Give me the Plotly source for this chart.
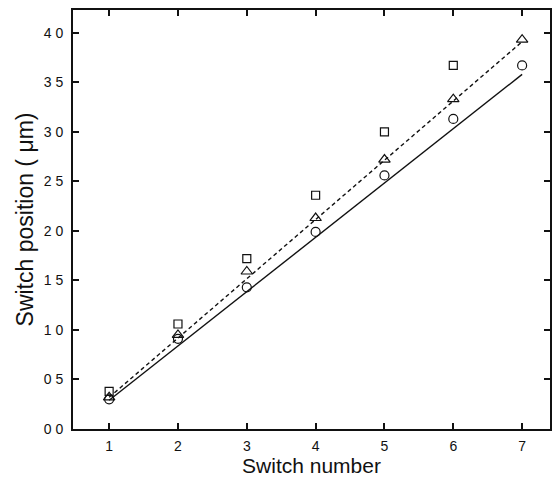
import plotly.graph_objects as go

# Switch index along the device
switch_number = [1, 2, 3, 4, 5, 6, 7]

# Measured switch positions for three devices
pos_circle = [3.0, 9.1, 14.3, 19.9, 25.6, 31.3, 36.7]
pos_triangle = [3.2, 9.5, 15.9, 21.3, 27.2, 33.3, 39.3]
pos_square = [3.8, 10.6, 17.2, 23.6, 30.0, 36.7]

# Linear fits, evaluated at the first and last switch
fit_x = [1, 7]
fit_solid = [2.9, 35.8]
fit_dashed = [3.2, 39.1]

# Axis tick labels
y_tickvals = [0, 5, 10, 15, 20, 25, 30, 35, 40]
y_ticktext = ["0 0", "0 5", "1 0", "1 5", "2 0", "2 5", "3 0", "3 5", "4 0"]

FONT = "Liberation Sans, Arial, Helvetica, sans-serif"
INK = "#111111"

fig = go.Figure()

fig.add_trace(go.Scatter(
    x=fit_x, y=fit_solid, mode="lines",
    line=dict(color=INK, width=1.4),
    hoverinfo="skip"))
fig.add_trace(go.Scatter(
    x=fit_x, y=fit_dashed, mode="lines",
    line=dict(color=INK, width=1.4, dash="4px,3px"),
    hoverinfo="skip"))

fig.add_trace(go.Scatter(
    x=switch_number, y=pos_circle, mode="markers",
    marker=dict(symbol="circle-open", size=9, color=INK, line=dict(width=1.2, color=INK))))
fig.add_trace(go.Scatter(
    x=switch_number, y=pos_triangle, mode="markers",
    marker=dict(symbol="triangle-up-open", size=10, color=INK, line=dict(width=1.2, color=INK))))
fig.add_trace(go.Scatter(
    x=switch_number[:len(pos_square)], y=pos_square, mode="markers",
    marker=dict(symbol="square-open", size=8, color=INK, line=dict(width=1.2, color=INK))))

axis_common = dict(
    showgrid=False, zeroline=False,
    showline=True, linecolor=INK, linewidth=2,
    mirror="ticks", ticks="inside", ticklen=6, tickwidth=1.5, tickcolor=INK,
    tickfont=dict(family=FONT, size=14, color=INK),
)

fig.update_layout(
    width=552, height=484,
    margin=dict(l=73, r=0, t=10, b=55),
    paper_bgcolor="white", plot_bgcolor="white",
    showlegend=False,
    font=dict(family=FONT, color=INK),
    xaxis=dict(
        range=[0.475, 7.405],
        tickvals=switch_number,
        title=dict(text="Switch number", font=dict(family=FONT, size=21, color=INK), standoff=6),
        ticklabelstandoff=3,
        **axis_common),
    yaxis=dict(
        range=[0, 42.3],
        tickvals=y_tickvals, ticktext=y_ticktext,
        title=dict(text="Switch position ( \u03bcm)", font=dict(family=FONT, size=23, color=INK), standoff=4),
        ticklabelstandoff=5,
        **axis_common),
)

fig.write_html("out.html")
